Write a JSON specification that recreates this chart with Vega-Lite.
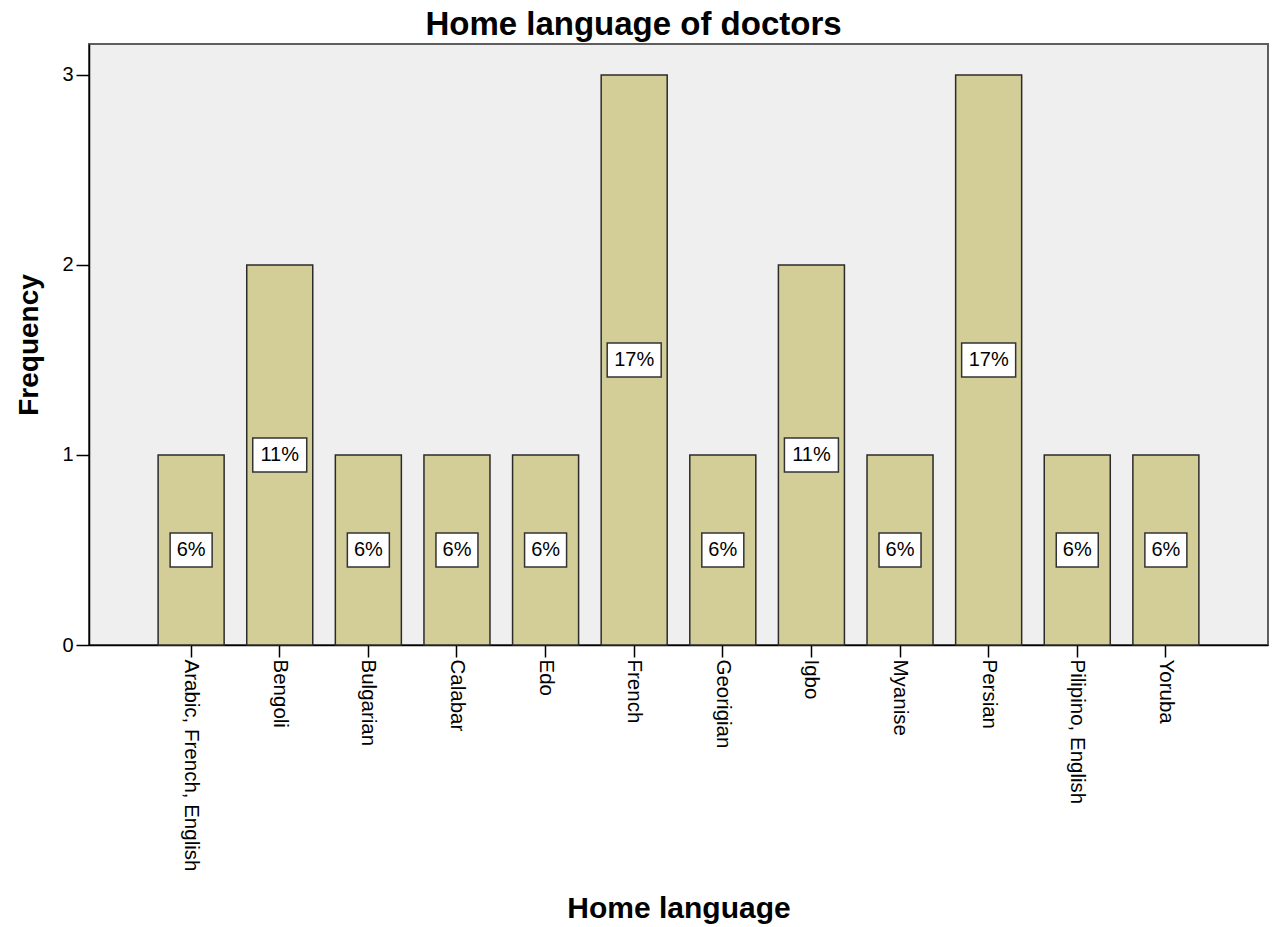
{
  "$schema": "https://vega.github.io/schema/vega-lite/v6.json",
  "width": 1179,
  "height": 601,
  "autosize": {"type": "none"},
  "padding": {"left": 89, "top": 44, "right": 10, "bottom": 282},
  "background": "white",
  "config": {
    "font": "Liberation Sans",
    "view": {"fill": "#EFEFEF", "stroke": "#5e5e5e", "strokeWidth": 2}
  },
  "title": {
    "text": "Home language of doctors",
    "font": "Liberation Sans",
    "fontSize": 33,
    "fontWeight": "bold",
    "color": "black",
    "anchor": "middle",
    "dx": -45,
    "dy": 33,
    "baseline": "alphabetic",
    "offset": 9
  },
  "data": {
    "values": [
      {"language": "Arabic, French, English", "count": 1, "pct": "6%"},
      {"language": "Bengoli", "count": 2, "pct": "11%"},
      {"language": "Bulgarian", "count": 1, "pct": "6%"},
      {"language": "Calabar", "count": 1, "pct": "6%"},
      {"language": "Edo", "count": 1, "pct": "6%"},
      {"language": "French", "count": 3, "pct": "17%"},
      {"language": "Georigian", "count": 1, "pct": "6%"},
      {"language": "Igbo", "count": 2, "pct": "11%"},
      {"language": "Myanise", "count": 1, "pct": "6%"},
      {"language": "Persian", "count": 3, "pct": "17%"},
      {"language": "Pilipino, English", "count": 1, "pct": "6%"},
      {"language": "Yoruba", "count": 1, "pct": "6%"}
    ]
  },
  "encoding": {
    "x": {
      "field": "language",
      "type": "nominal",
      "sort": null,
      "scale": {"paddingInner": 0.255, "paddingOuter": 0.78},
      "axis": {
        "title": "Home language",
        "titleFont": "Liberation Sans",
        "titleFontSize": 30,
        "titleFontWeight": "bold",
        "titleColor": "black",
        "titleBaseline": "alphabetic",
        "titleY": 272,
        "labelAngle": 90,
        "labelAlign": "left",
        "labelBaseline": "middle",
        "labelFont": "Liberation Sans",
        "labelFontSize": 20.5,
        "labelColor": "black",
        "labelPadding": 2,
        "labelLimit": 400,
        "tickSize": 12,
        "tickColor": "black",
        "tickWidth": 1.5,
        "domainColor": "black",
        "domainWidth": 1.5,
        "grid": false
      }
    }
  },
  "layer": [
    {
      "mark": {"type": "bar", "fill": "#D3CE97", "stroke": "#2b2b2b", "strokeWidth": 1.5},
      "encoding": {
        "y": {
          "field": "count",
          "type": "quantitative",
          "scale": {"domain": [0, 3.163], "nice": false},
          "axis": {
            "title": "Frequency",
            "titleFont": "Liberation Sans",
            "titleFontSize": 28,
            "titleFontWeight": "bold",
            "titleColor": "black",
            "titleBaseline": "alphabetic",
            "titleX": -52,
            "values": [0, 1, 2, 3],
            "format": "d",
            "labelFont": "Liberation Sans",
            "labelFontSize": 20,
            "labelColor": "black",
            "labelPadding": 3,
            "tickSize": 13,
            "tickColor": "black",
            "tickWidth": 1.5,
            "domainColor": "black",
            "domainWidth": 1.5,
            "grid": false
          }
        }
      }
    },
    {
      "mark": {"type": "point", "filled": true, "fill": "white", "stroke": "#333333", "strokeWidth": 1.5, "opacity": 1, "size": 4},
      "encoding": {
        "y": {
          "field": "count",
          "type": "quantitative",
          "scale": {"domain": [0, 6.326], "nice": false},
          "axis": null
        },
        "shape": {
          "field": "pct",
          "type": "nominal",
          "scale": {
            "domain": ["6%", "11%", "17%"],
            "range": ["M-21,-17H21V17H-21Z", "M-27,-17H27V17H-27Z", "M-27,-17H27V17H-27Z"]
          },
          "legend": null
        }
      }
    },
    {
      "mark": {"type": "text", "font": "Liberation Sans", "fontSize": 20, "color": "black", "align": "center", "baseline": "middle"},
      "encoding": {
        "y": {
          "field": "count",
          "type": "quantitative",
          "scale": {"domain": [0, 6.326], "nice": false},
          "axis": null
        },
        "text": {"field": "pct", "type": "nominal"}
      }
    }
  ],
  "resolve": {"scale": {"y": "independent"}}
}
